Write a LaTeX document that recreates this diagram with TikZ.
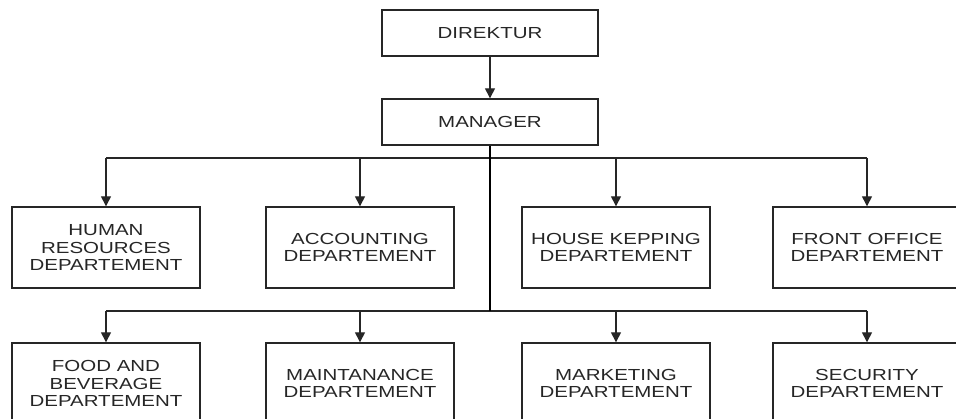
\documentclass[tikz,border=0pt]{standalone}
\usepackage{fontspec}
\setmainfont{Liberation Sans}[FakeStretch=1.28]
\usetikzlibrary{arrows.meta}
\begin{document}
\begin{tikzpicture}[x=1pt,y=1pt,
  box/.style={draw=black!85, line width=1.4pt, minimum width=188pt, minimum height=81pt,
    align=center, inner sep=0pt, font=\fontsize{16}{17.5}\selectfont, text=black!85},
  topbox/.style={box, minimum width=216pt, minimum height=46pt},
  conn/.style={draw=black!85, line width=1.4pt},
  trunk/.style={draw=black, line width=2.6pt},
  arr/.style={conn, -{Triangle[width=10pt,length=10pt]}}]
\useasboundingbox (0,0) rectangle (956,-419);
\clip (0,0) rectangle (956,-419);
% top
\node[topbox] (dir) at (490,-33) {DIREKTUR};
\node[topbox] (man) at (490,-122) {MANAGER};
% row 1
\node[box] (hr) at (106,-247.5) {HUMAN\\RESOURCES\\DEPARTEMENT};
\node[box] (acc) at (360,-247.5) {ACCOUNTING\\DEPARTEMENT};
\node[box] (hk) at (616,-247.5) {HOUSE KEPPING\\DEPARTEMENT};
\node[box] (fo) at (867,-247.5) {FRONT OFFICE\\DEPARTEMENT};
% row 2
\node[box] (fb) at (106,-383.5) {FOOD AND\\BEVERAGE\\DEPARTEMENT};
\node[box] (mt) at (360,-383.5) {MAINTANANCE\\DEPARTEMENT};
\node[box] (mk) at (616,-383.5) {MARKETING\\DEPARTEMENT};
\node[box] (sc) at (867,-383.5) {SECURITY\\DEPARTEMENT};
% coordinates
\coordinate (j1) at (490,-158);
\coordinate (j2) at (490,-311);
\coordinate (a1) at (106,-158);
\coordinate (a4) at (867,-158);
\coordinate (b1) at (106,-311);
\coordinate (b4) at (867,-311);
% connectors
\draw[arr] (dir.south) -- (man.north);
\draw[conn] (a1) -- (a4);
\draw[conn] (b1) -- (b4);
\draw[arr] (a1) -- (hr.north);
\draw[arr] (a1 -| acc.north) -- (acc.north);
\draw[arr] (a1 -| hk.north) -- (hk.north);
\draw[arr] (a4) -- (fo.north);
\draw[arr] (b1) -- (fb.north);
\draw[arr] (b1 -| mt.north) -- (mt.north);
\draw[arr] (b1 -| mk.north) -- (mk.north);
\draw[arr] (b4) -- (sc.north);
\draw[trunk] (man.south) -- (j2);
\end{tikzpicture}
\end{document}
